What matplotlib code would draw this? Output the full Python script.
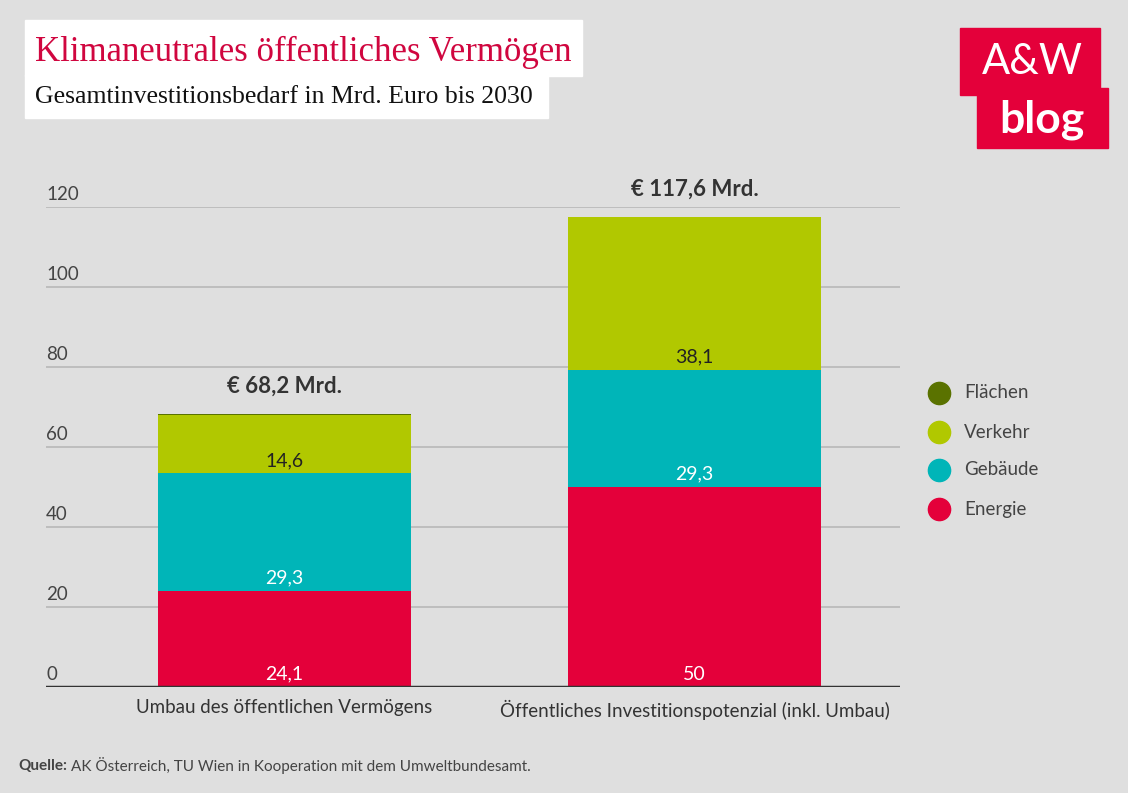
import matplotlib.pyplot as plt
from matplotlib.patches import Rectangle

# data
categories = ["Umbau des öffentlichen Vermögens",
              "Öffentliches Investitionspotenzial (inkl. Umbau)"]
energie = [24.1, 50.0]
gebaeude = [29.3, 29.3]
verkehr = [14.6, 38.1]
flaechen = [0.2, 0.0]
totals = ["€ 68,2 Mrd.", "€ 117,6 Mrd."]
series_names = ["Energie", "Gebäude", "Verkehr", "Flächen"]
yticks = [0, 20, 40, 60, 80, 100, 120]

colors = {"Energie": "#E4003A", "Gebäude": "#00B5B8",
          "Verkehr": "#B1C800", "Flächen": "#5A7200"}
label_colors = {"Energie": "white", "Gebäude": "white", "Verkehr": "#222222"}
bg = "#DFDFDF"
sans = ["Lato", "DejaVu Sans"]
serif = ["Liberation Serif", "DejaVu Serif"]

fig = plt.figure(figsize=(11.28, 7.93), dpi=100, facecolor=bg)
ax = fig.add_axes([46 / 1128, 1 - 687 / 793, 854 / 1128, 480 / 793])
ax.set_facecolor(bg)

x = [0, 1]
width = 0.617
series = {"Energie": energie, "Gebäude": gebaeude,
          "Verkehr": verkehr, "Flächen": flaechen}
bottom = [0.0, 0.0]
for name in series_names:
    vals = series[name]
    ax.bar(x, vals, width, bottom=bottom, color=colors[name], zorder=3)
    if name in label_colors:
        for i in range(2):
            txt = f"{vals[i]:g}".replace(".", ",")
            ax.annotate(txt, (x[i], bottom[i]), xytext=(0, 3),
                        textcoords="offset points", ha="center", va="bottom",
                        fontsize=14, color=label_colors[name], family=sans,
                        zorder=4)
    bottom = [b + v for b, v in zip(bottom, vals)]

for i in range(2):
    ax.annotate(totals[i], (x[i], bottom[i]), xytext=(0, 20),
                textcoords="offset points", ha="center", va="center",
                fontsize=16, fontweight="bold", color="#333333",
                family=sans, annotation_clip=False)

ax.set_xlim(-0.582, 1.501)
ax.set_ylim(0, 120)
for spine in ax.spines.values():
    spine.set_visible(False)
ax.set_yticks([])
ax.set_xticks([])
for t in yticks[1:]:
    ax.axhline(t, color="#BBBBBB", lw=1.3, zorder=1)
ax.axhline(0, color="#333333", lw=2.5, zorder=5)
for t in yticks:
    ax.annotate(str(t), (0, t), xycoords=("axes fraction", "data"),
                xytext=(0, 3), textcoords="offset points",
                ha="left", va="bottom", fontsize=13.5, color="#444444",
                family=sans)
for i, c in enumerate(categories):
    ax.annotate(c, (x[i], 0), xytext=(0, -9), textcoords="offset points",
                ha="center", va="top", fontsize=13.5, color="#333333",
                family=sans, annotation_clip=False)

# legend
leg_y = [393, 432, 470, 509]
for name, yp in zip(["Flächen", "Verkehr", "Gebäude", "Energie"], leg_y):
    fig.lines.append(plt.Line2D([939 / 1128], [1 - yp / 793], marker="o",
                                ms=16, color=colors[name], lw=0,
                                transform=fig.transFigure))
    fig.text(964 / 1128, 1 - yp / 793, name, ha="left", va="center",
             fontsize=13.5, color="#444444", family=sans)

# title boxes
fig.patches.append(Rectangle((25 / 1128, 1 - 76 / 793), 557 / 1128, 56 / 793,
                             transform=fig.transFigure, color="white",
                             zorder=0))
fig.patches.append(Rectangle((25 / 1128, 1 - 118 / 793), 523 / 1128, 43 / 793,
                             transform=fig.transFigure, color="white",
                             zorder=0))
fig.text(35 / 1128, 1 - 52 / 793, "Klimaneutrales öffentliches Vermögen",
         ha="left", va="center", fontsize=25, color="#D0063F", family=serif)
fig.text(35 / 1128, 1 - 97 / 793, "Gesamtinvestitionsbedarf in Mrd. Euro bis 2030",
         ha="left", va="center", fontsize=18.5, color="#111111", family=serif)

# logo
fig.patches.append(Rectangle((960 / 1128, 1 - 95 / 793), 140 / 1128, 67 / 793,
                             transform=fig.transFigure, color="#E4003A"))
fig.patches.append(Rectangle((977 / 1128, 1 - 148 / 793), 131 / 1128, 60 / 793,
                             transform=fig.transFigure, color="#E4003A"))
fig.text(1032 / 1128, 1 - 62 / 793, "A&W", ha="center", va="center",
         fontsize=30, color="white", family=sans)
fig.text(1042 / 1128, 1 - 120 / 793, "blog", ha="center", va="center",
         fontsize=32, fontweight="bold", color="white", family=sans)

# source
t1 = fig.text(18 / 1128, 1 - 766 / 793, "Quelle:", ha="left", va="center",
              fontsize=11, fontweight="bold", color="#444444", family=sans)
fig.canvas.draw()
bb = t1.get_window_extent()
fig.text(bb.x1 / 1128 + 4 / 1128, 1 - 766 / 793,
         "AK Österreich, TU Wien in Kooperation mit dem Umweltbundesamt.",
         ha="left", va="center", fontsize=11, color="#444444", family=sans)

fig.savefig("out.png", dpi=100, facecolor=bg)
